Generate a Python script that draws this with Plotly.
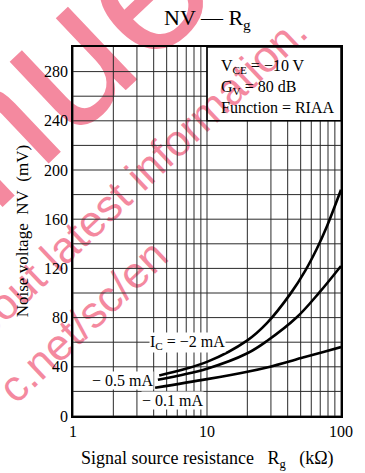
import math
import plotly.graph_objects as go

# ---- data ----
rg_2mA = [4.4, 10, 20, 28, 42, 54, 66, 78, 100]
nv_2mA = [33, 44, 61.5, 75.5, 99.5, 118, 136, 153.5, 184]

rg_05mA = [4.3, 10, 20, 28, 47, 69, 100]
nv_05mA = [29.5, 38.5, 51, 61, 80.5, 100.5, 122]

rg_01mA = [4.1, 10, 20, 28, 52, 75, 100]
nv_01mA = [23, 30, 36, 39.5, 47.5, 52.3, 56]

x_grid = [1, 2, 3, 4, 5, 6, 7, 8, 9, 10, 20, 30, 40, 50, 60, 70, 80, 90, 100]
x_labels = {1: "1", 10: "10", 100: "100"}
y_grid = list(range(0, 300, 20))
y_labels = {v: str(v) for v in range(0, 300, 40)}

# condition box occupies Rg >= 10, NV >= 240 (grid hidden there)
box_x, box_y = 10, 240

SERIF = "Liberation Serif"
W, H = 365, 473
ML, MR, MT, MB = 73, 20, 47, 57
PW, PH = W - ML - MR, H - MT - MB
GRID = "#2a2a2a"

fig = go.Figure()

# grid lines built from the grid lists, interrupted by the condition box
gx, gy = [], []
for v in x_grid:
    top = 300 if v <= box_x else box_y
    gx += [v, v, None]
    gy += [0, top, None]
for v in y_grid:
    right = 100 if v <= box_y else box_x
    gx += [1, right, None]
    gy += [v, v, None]
fig.add_trace(go.Scatter(x=gx, y=gy, mode="lines", line=dict(color=GRID, width=1),
                         showlegend=False, hoverinfo="skip"))

for xs, ys in [(rg_2mA, nv_2mA), (rg_05mA, nv_05mA), (rg_01mA, nv_01mA)]:
    fig.add_trace(go.Scatter(x=xs, y=ys, mode="lines",
                             line=dict(color="black", width=2.6, shape="spline", smoothing=1.0),
                             showlegend=False, hoverinfo="skip"))

fig.update_xaxes(type="log", range=[0, 2], tickvals=x_grid,
                 ticktext=[x_labels.get(v, "") for v in x_grid],
                 showgrid=False, ticks="",
                 showline=True, linecolor="black", linewidth=1.5, mirror=True,
                 tickfont=dict(family=SERIF, size=16, color="black"), zeroline=False)
fig.update_yaxes(range=[0, 300], tickvals=y_grid,
                 ticktext=[y_labels.get(v, "") for v in y_grid],
                 showgrid=False, ticks="",
                 showline=True, linecolor="black", linewidth=1.5, mirror=True,
                 tickfont=dict(family=SERIF, size=16, color="black"), zeroline=False)

# ---- watermark (drawn beneath everything) ----
PINK = "#f4899f"

def px2paper(px, py):
    return (px - ML) / PW, (H - MB - py) / PH

def watermark(text, cx, cy, size, ang):
    a = math.radians(ang)
    L = 60
    x0, y0 = px2paper(cx - L * math.cos(a), cy + L * math.sin(a))
    x1, y1 = px2paper(cx + L * math.cos(a), cy - L * math.sin(a))
    return dict(type="line", xref="paper", yref="paper", x0=x0, y0=y0, x1=x1, y1=y1,
                layer="below", line=dict(color="rgba(0,0,0,0)", width=0),
                label=dict(text=text, textposition="middle", yanchor="middle", padding=0,
                           font=dict(family="Liberation Sans", size=size, color=PINK)))

shapes = [
    watermark("nue", 50, 46, 190, 43),
    watermark("about latest information.", 127, 182, 44, 43),
    watermark("c.net/sc/en", 80, 318, 44, 43),
    # condition box border
    dict(type="rect", xref="paper", yref="paper", x0=0.5, x1=1, y0=0.8, y1=1,
         layer="above", fillcolor="rgba(0,0,0,0)", line=dict(color="black", width=1.5)),
]
fig.update_layout(shapes=shapes)

ann = []
ann.append(dict(xref="paper", yref="paper", x=(221 - ML) / PW, y=(H - MB - 55) / PH,
                xanchor="left", yanchor="top", align="left", showarrow=False,
                text="V<sub>CE</sub> = −10 V<br>G<sub>V</sub> = 80 dB<br>Function = RIAA",
                font=dict(family=SERIF, size=16, color="black")))
lab_font = dict(family=SERIF, size=16, color="black")
ann.append(dict(x=0.853, y=60, xref="x", yref="y", text="I<sub>C</sub> = −2 mA",
                showarrow=False, bgcolor="white", font=lab_font, borderpad=0))
ann.append(dict(x=0.368, y=29, xref="x", yref="y", text="− 0.5 mA",
                showarrow=False, bgcolor="white", font=lab_font, borderpad=0))
ann.append(dict(x=0.743, y=12.7, xref="x", yref="y", text="− 0.1 mA",
                showarrow=False, bgcolor="white", font=lab_font, borderpad=0))
# title and axis titles
ann.append(dict(xref="paper", yref="paper", x=0.5, y=(H - MB - 19) / PH,
                xanchor="center", yanchor="middle",
                text="NV — R<sub>g</sub>", showarrow=False,
                font=dict(family=SERIF, size=22, color="black")))
ann.append(dict(xref="paper", yref="paper", x=(209 - ML) / PW, y=(H - MB - 459) / PH,
                xanchor="center", yanchor="middle",
                text="Signal source resistance\u00a0\u00a0\u00a0R<sub>g</sub>\u00a0\u00a0\u00a0(kΩ)",
                showarrow=False, font=dict(family=SERIF, size=18, color="black")))
ann.append(dict(xref="paper", yref="paper", x=(22 - ML) / PW, y=0.5, textangle=-90,
                xanchor="center", yanchor="middle",
                text="Noise voltage\u00a0\u00a0NV\u00a0\u00a0(mV)",
                showarrow=False, font=dict(family=SERIF, size=17, color="black")))

fig.update_layout(width=W, height=H, margin=dict(l=ML, r=MR, t=MT, b=MB),
                  paper_bgcolor="white", plot_bgcolor="rgba(0,0,0,0)",
                  annotations=ann, showlegend=False)

fig.write_html("out.html")
